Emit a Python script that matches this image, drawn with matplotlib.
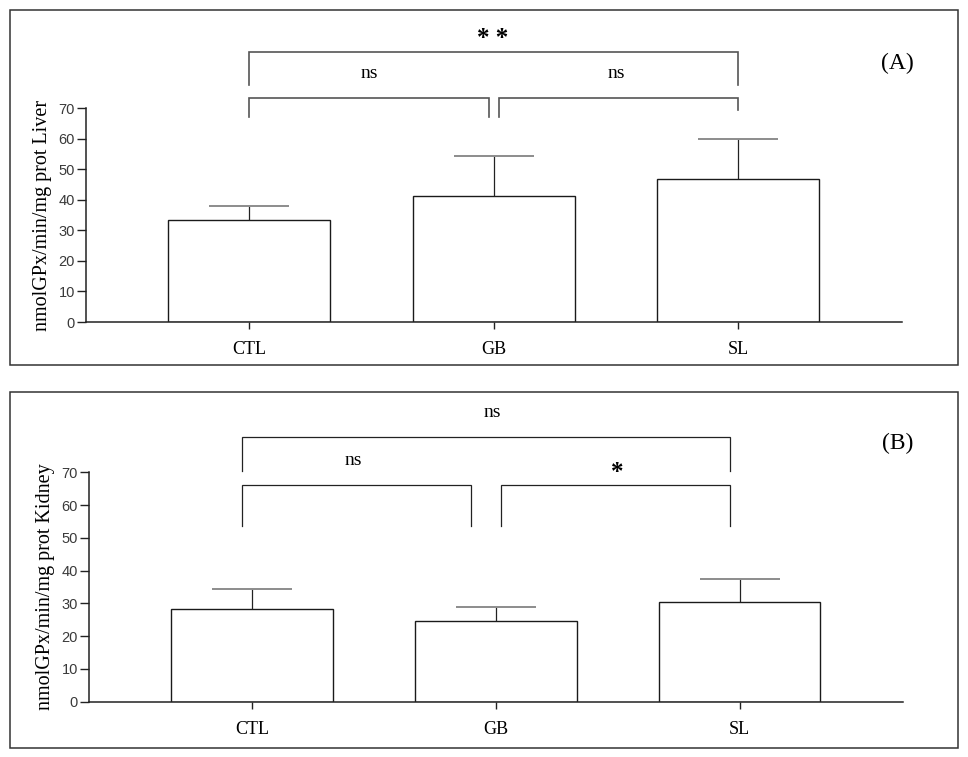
import matplotlib
matplotlib.use("Agg")
import matplotlib.pyplot as plt
from matplotlib.patches import Rectangle

groups = ["CTL", "GB", "SL"]

liver_mean = [33.4, 41.3, 46.9]
liver_sd = [4.7, 13.1, 13.0]

kidney_mean = [28.4, 24.5, 30.5]
kidney_sd = [6.0, 4.4, 6.8]

# significance brackets: x1, x2, y, left drop, right drop, label
liver_brackets = [
    (0.0, 2.0, 88.3, 77.4, 77.4, "* *"),
    (0.0, 0.98, 73.3, 67.0, 67.0, "ns"),
    (1.02, 2.0, 73.3, 67.0, 69.4, "ns"),
]
kidney_brackets = [
    (-0.04, 1.96, 80.7, 70.3, 70.3, "ns"),
    (-0.04, 0.90, 66.0, 53.6, 53.6, "ns"),
    (1.02, 1.96, 66.0, 53.6, 53.6, "*"),
]

SERIF = "Liberation Serif"
SANS = "Liberation Sans"


def draw_panel(ax, means, sds, ylabel, brackets, label_pos, tag, line_col, br_lw):
    x = list(range(len(groups)))
    ax.bar(x, means, width=0.663, color="white", edgecolor="#1a1a1a",
           linewidth=1.0, zorder=2)
    lower = [0] * len(sds)
    eb = ax.errorbar(x, means, yerr=[lower, sds], fmt="none", ecolor="#222222",
                     elinewidth=0.9, capsize=28.8, capthick=1.4, zorder=3)
    caps = eb[1]
    caps[0].set_visible(False)
    caps[1].set_markeredgecolor("#8c8c8c")

    ax.set_xlim(-0.668, 2.67)
    ax.set_ylim(0, 70)
    ax.set_yticks(range(0, 71, 10))
    ax.set_xticks(x)
    ax.set_xticklabels(groups, fontfamily=SERIF, fontsize=13)
    for lab in ax.get_yticklabels():
        lab.set_fontfamily(SANS)
        lab.set_fontsize(10.5)
        lab.set_color("#3a3a3a")
    ax.tick_params(axis="y", length=6.5, width=1, pad=1.5, color="#222222")
    ax.tick_params(axis="x", length=5, width=1, pad=9, color="#222222")
    ax.spines["top"].set_visible(False)
    ax.spines["right"].set_visible(False)
    for s in ("left", "bottom"):
        ax.spines[s].set_linewidth(1.1)
        ax.spines[s].set_color("#222222")
    ax.set_ylabel(ylabel, fontfamily=SERIF, fontsize=14.5, labelpad=5)

    for (x1, x2, y, d1, d2, txt), (tx, ty) in zip(brackets, label_pos):
        ax.plot([x1, x1, x2, x2], [d1, y, y, d2], color=line_col,
                linewidth=br_lw, clip_on=False, solid_joinstyle="miter")
        if txt == "ns":
            ax.text(tx, ty, txt, ha="center", va="baseline",
                    fontfamily=SERIF, fontsize=14, clip_on=False)
        else:
            ax.text(tx, ty, txt, ha="center", va="center",
                    fontfamily=SERIF, fontweight="bold", fontsize=18,
                    clip_on=False)

    ax.text(tag[0], tag[1], tag[2], ha="center", va="center",
            fontfamily=SERIF, fontsize=17)


fig = plt.figure(figsize=(9.68, 7.57), dpi=100)

# outer frames around each panel
for (l, b, w, h) in [(0.0103, 0.5178, 0.9793, 0.469), (0.0103, 0.0123, 0.9793, 0.470)]:
    fig.patches.append(Rectangle((l, b), w, h, transform=fig.transFigure,
                                 fill=False, edgecolor="#333333", linewidth=1.1))

ax1 = fig.add_axes([0.0888, 0.5746, 0.843, 0.2827])
draw_panel(ax1, liver_mean, liver_sd, "nmolGPx/min/mg prot Liver",
           liver_brackets, [(0.997, 92.6), (0.493, 79.9), (1.503, 79.9)],
           (2.652, 84.6, "(A)"), "#555555", 1.2)

ax2 = fig.add_axes([0.0919, 0.0730, 0.841, 0.3031])
draw_panel(ax2, kidney_mean, kidney_sd, "nmolGPx/min/mg prot Kidney",
           kidney_brackets, [(0.984, 86.9), (0.418, 72.2), (1.497, 69.9)],
           (2.649, 78.9, "(B)"), "#222222", 0.9)

fig.savefig("out.png", dpi=100)
